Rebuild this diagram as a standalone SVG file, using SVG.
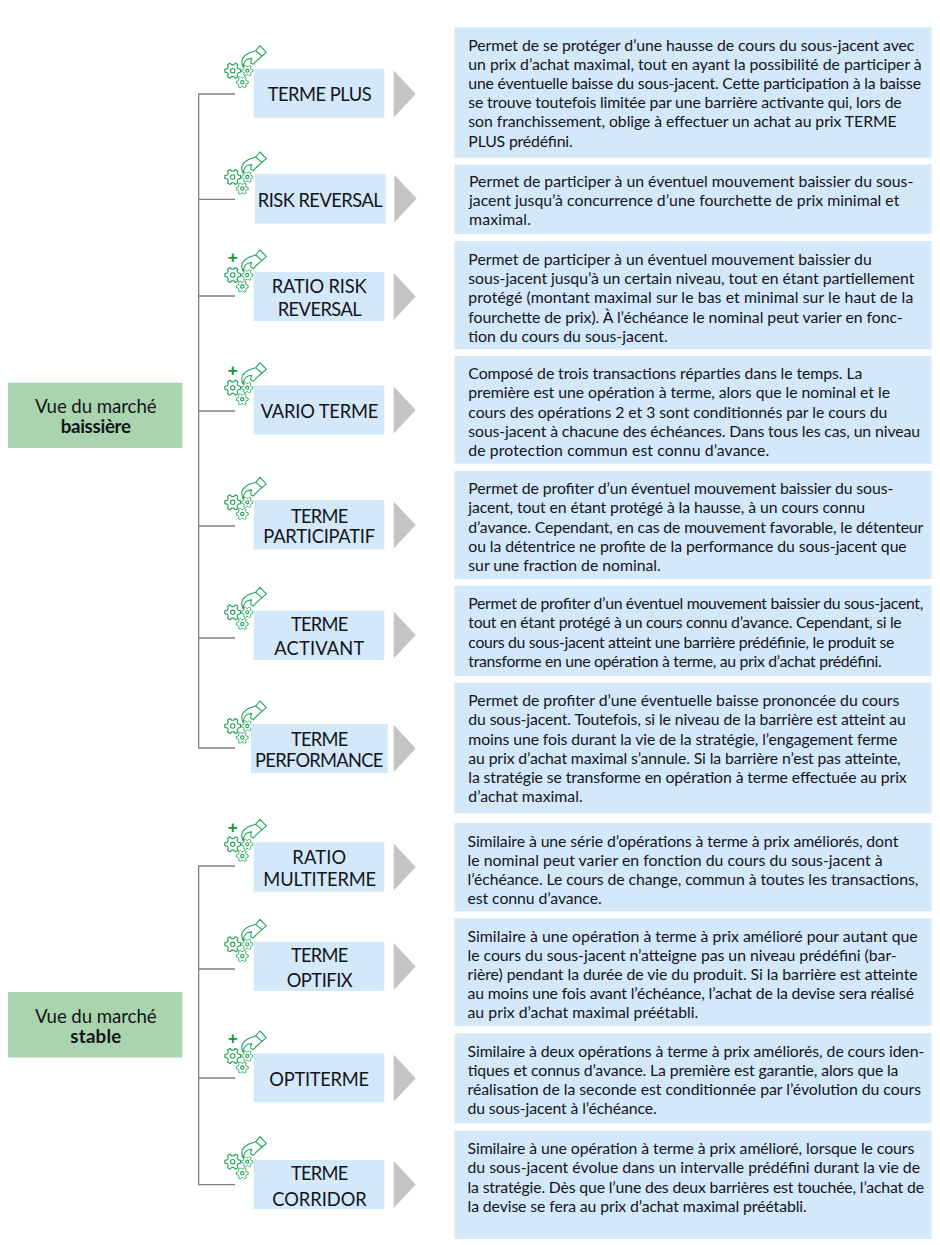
<svg xmlns="http://www.w3.org/2000/svg" xmlns:xlink="http://www.w3.org/1999/xlink" width="940" height="1245" viewBox="0 0 940 1245">
<style>
text{font-family:Lato,"Noto Sans","Liberation Sans",sans-serif;fill:#14141c}
.d{font-size:15.8px}
.l{font-size:18.300px;text-anchor:middle}
.m{font-size:18.700px;text-anchor:middle}
.b{font-weight:700}
.g{fill:#a9d4ae}
.lb{fill:#d3e8f9}
.t{fill:#c4c4c4}
.c{stroke:#808080;stroke-width:1.3;fill:none}
.i{fill:none;stroke:#21a556;stroke-width:1.1;stroke-linejoin:round;stroke-linecap:round}
.p{font-family:"Liberation Sans",sans-serif;font-size:17px;font-weight:700;fill:#12983f;text-anchor:middle}
</style>
<defs>
<polygon id="cog" points="5.17,-1.88 7.39,-1.3 7.39,1.3 5.17,1.88 4.21,3.54 4.82,5.75 2.57,7.05 .96,5.42 -.96,5.42 -2.57,7.05 -4.82,5.75 -4.21,3.54 -5.17,1.88 -7.39,1.3 -7.39,-1.3 -5.17,-1.88 -4.21,-3.54 -4.82,-5.75 -2.57,-7.05 -.96,-5.42 .96,-5.42 2.57,-7.05 4.82,-5.75 4.21,-3.54"/>
<g id="icon" class="i">
<use xlink:href="#cog" href="#cog" transform="translate(7.700,25.700) scale(1.060)"/><circle cx="7.700" cy="25.700" r="2.200"/>
<use xlink:href="#cog" href="#cog" transform="translate(22.300,25.700) scale(.75)"/><circle cx="22.300" cy="25.700" r="1.600"/>
<use xlink:href="#cog" href="#cog" transform="translate(17.300,37.300) scale(.8)"/><circle cx="17.300" cy="37.300" r="1.700"/>
<path d="M30.700,5.700 L35,.7 L41.300,7.300 L37,11 Z"/>
<path d="M30.700,5.700 C26,7 23.500,8 22.300,9 C18,11.500 15,16 18.300,22.300 C18.500,19 20,15 23,14 L26.700,13.300 C26,15 25.500,17 26,18.300 L28.300,19.300 L31.700,15.700 L37,11"/>
</g>
</defs>

<g id="connectors">
<path class="c" d="M235,94H198.700V748H235M198.700,199.300H235M198.700,296H235M198.700,411H235M198.700,526H235M198.700,638H235"/>
<path class="c" d="M235,866H198.700V1184.700H235M198.700,969H235M198.700,1078H235"/>
</g>

<g id="market-baissiere"><rect class="g" x="8" y="382.700" width="174.300" height="65.300"/><text class="m" x="95.800" y="413.300" textLength="121.700">Vue du marché</text><text class="m b" x="95.800" y="433.300" textLength="70.300">baissière</text></g>
<g id="market-stable"><rect class="g" x="8" y="992" width="174.300" height="65.500"/><text class="m" x="95.800" y="1022.500" textLength="121.700">Vue du marché</text><text class="m b" x="95.800" y="1043" textLength="51">stable</text></g>

<g id="terme-plus"><use xlink:href="#icon" href="#icon" x="225" y="45"/><rect class="lb" x="253.700" y="69" width="130.600" height="48.700"/><text class="l" x="319.700" y="100.700" textLength="104">TERME PLUS</text><polygon class="t" points="393.700,70.500 415.700,94 393.700,117.500"/>
<rect class="lb" x="454.500" y="27.300" width="477" height="130.400"/>
<text class="d" x="468.300" y="50.700" textLength="446">Permet de se protéger d’une hausse de cours du sous-jacent avec</text>
<text class="d" x="468.300" y="70" textLength="453.400">un prix d’achat maximal, tout en ayant la possibilité de participer à</text>
<text class="d" x="468.300" y="89" textLength="452.700">une éventuelle baisse du sous-jacent. Cette participation à la baisse</text>
<text class="d" x="468.300" y="108.300" textLength="433.400">se trouve toutefois limitée par une barrière activante qui, lors de</text>
<text class="d" x="468.300" y="127.300" textLength="428.400">son franchissement, oblige à effectuer un achat au prix TERME</text>
<text class="d" x="468.300" y="146.700" textLength="104.400">PLUS prédéfini.</text></g>

<g id="risk-reversal"><use xlink:href="#icon" href="#icon" x="225" y="151.300"/><rect class="lb" x="255" y="174" width="130.700" height="49.500"/><text class="l" x="320.200" y="207.400" textLength="125">RISK REVERSAL</text><polygon class="t" points="394.300,175 416.700,198.500 394.300,222.500"/>
<rect class="lb" x="454.500" y="164.500" width="477" height="69.500"/>
<text class="d" x="469" y="186.700" textLength="444.300">Permet de participer à un éventuel mouvement baissier du sous-</text>
<text class="d" x="469" y="206" textLength="430.300">jacent jusqu’à concurrence d’une fourchette de prix minimal et</text>
<text class="d" x="469" y="225" textLength="62">maximal.</text></g>

<g id="ratio-risk-reversal"><use xlink:href="#icon" href="#icon" x="225" y="249.300"/><text class="p" x="232.700" y="263">+</text><rect class="lb" x="253.700" y="272" width="130.600" height="49"/><text class="l" x="319.200" y="293.300" textLength="95">RATIO RISK</text><text class="l" x="319.700" y="315.700" textLength="84">REVERSAL</text><polygon class="t" points="393.700,273 415.700,296.500 393.700,320"/>
<rect class="lb" x="454.500" y="241" width="477" height="108.500"/>
<text class="d" x="468.300" y="265" textLength="403.400">Permet de participer à un éventuel mouvement baissier du</text>
<text class="d" x="468.300" y="284.300" textLength="446">sous-jacent jusqu’à un certain niveau, tout en étant partiellement</text>
<text class="d" x="468.300" y="303.300" textLength="445">protégé (montant maximal sur le bas et minimal sur le haut de la</text>
<text class="d" x="468.300" y="322.700" textLength="434.400">fourchette de prix). À l’échéance le nominal peut varier en fonc-</text>
<text class="d" x="468.300" y="341.700" textLength="199.400">tion du cours du sous-jacent.</text></g>

<g id="vario-terme"><use xlink:href="#icon" href="#icon" x="225" y="362"/><text class="p" x="232.700" y="375.700">+</text><rect class="lb" x="253.700" y="385.500" width="130.600" height="49"/><text class="l" x="319.500" y="417.700" textLength="117.700">VARIO TERME</text><polygon class="t" points="393.700,386.500 415.700,410 393.700,433.500"/>
<rect class="lb" x="454.500" y="356" width="477" height="107.700"/>
<text class="d" x="468.300" y="379" textLength="394">Composé de trois transactions réparties dans le temps. La</text>
<text class="d" x="468.300" y="398.300" textLength="421.700">première est une opération à terme, alors que le nominal et le</text>
<text class="d" x="468.300" y="417.700" textLength="419">cours des opérations 2 et 3 sont conditionnés par le cours du</text>
<text class="d" x="468.300" y="436.700" textLength="451.700">sous-jacent à chacune des échéances. Dans tous les cas, un niveau</text>
<text class="d" x="468.300" y="456" textLength="301">de protection commun est connu d’avance.</text></g>

<g id="terme-participatif"><use xlink:href="#icon" href="#icon" x="225" y="476.600"/><rect class="lb" x="253.700" y="500" width="130.600" height="49.300"/><text class="l" x="319.700" y="522.700" textLength="57.300">TERME</text><text class="l" x="319.200" y="542.700" textLength="111.700">PARTICIPATIF</text><polygon class="t" points="393.700,501.500 415.700,525 393.700,548.500"/>
<rect class="lb" x="454.500" y="471" width="477" height="108"/>
<text class="d" x="468.300" y="494" textLength="425">Permet de profiter d’un éventuel mouvement baissier du sous-</text>
<text class="d" x="468.300" y="513.300" textLength="396.700">jacent, tout en étant protégé à la hausse, à un cours connu</text>
<text class="d" x="468.300" y="532.700" textLength="455">d’avance. Cependant, en cas de mouvement favorable, le détenteur</text>
<text class="d" x="468.300" y="551.700" textLength="438.400">ou la détentrice ne profite de la performance du sous-jacent que</text>
<text class="d" x="468.300" y="570.700" textLength="192.400">sur une fraction de nominal.</text></g>

<g id="terme-activant"><use xlink:href="#icon" href="#icon" x="225" y="586.600"/><rect class="lb" x="253.700" y="610.700" width="130.600" height="49.300"/><text class="l" x="319.700" y="630.700" textLength="57.300">TERME</text><text class="l" x="319.300" y="655" textLength="90">ACTIVANT</text><polygon class="t" points="393.700,611.500 415.700,635 393.700,658.500"/>
<rect class="lb" x="454.500" y="585.700" width="477" height="90.300"/>
<text class="d" x="468.300" y="609.300" textLength="455">Permet de profiter d’un éventuel mouvement baissier du sous-jacent,</text>
<text class="d" x="468.300" y="628.300" textLength="433.400">tout en étant protégé à un cours connu d’avance. Cependant, si le</text>
<text class="d" x="468.300" y="647.700" textLength="426">cours du sous-jacent atteint une barrière prédéfinie, le produit se</text>
<text class="d" x="468.300" y="666.700" textLength="413.400">transforme en une opération à terme, au prix d’achat prédéfini.</text></g>

<g id="terme-performance"><use xlink:href="#icon" href="#icon" x="225" y="700.300"/><rect class="lb" x="251" y="724" width="136.700" height="49"/><text class="l" x="319.700" y="745.800" textLength="57.300">TERME</text><text class="l" x="319.200" y="766.500" textLength="128.300">PERFORMANCE</text><polygon class="t" points="393.700,725 415.700,748.500 393.700,772"/>
<rect class="lb" x="454.500" y="682.700" width="477" height="130.600"/>
<text class="d" x="468.300" y="706" textLength="431">Permet de profiter d’une éventuelle baisse prononcée du cours</text>
<text class="d" x="468.300" y="725.300" textLength="437.400">du sous-jacent. Toutefois, si le niveau de la barrière est atteint au</text>
<text class="d" x="468.300" y="744.700" textLength="429">moins une fois durant la vie de la stratégie, l’engagement ferme</text>
<text class="d" x="468.300" y="764" textLength="432.400">au prix d’achat maximal s’annule. Si la barrière n’est pas atteinte,</text>
<text class="d" x="468.300" y="783.300" textLength="438.400">la stratégie se transforme en opération à terme effectuée au prix</text>
<text class="d" x="468.300" y="802.300" textLength="114.400">d’achat maximal.</text></g>

<g id="ratio-multiterme"><use xlink:href="#icon" href="#icon" x="225" y="818.600"/><text class="p" x="232.700" y="832.500">+</text><rect class="lb" x="253.700" y="842.300" width="130.600" height="49.400"/><text class="l" x="319.200" y="864.300" textLength="53.700">RATIO</text><text class="l" x="319.700" y="886" textLength="112.700">MULTITERME</text><polygon class="t" points="393.700,843.500 415.700,867 393.700,890.500"/>
<rect class="lb" x="454.500" y="823" width="477" height="88.300"/>
<text class="d" x="467.500" y="846.700" textLength="430.800">Similaire à une série d’opérations à terme à prix améliorés, dont</text>
<text class="d" x="467.500" y="865.700" textLength="415.200">le nominal peut varier en fonction du cours du sous-jacent à</text>
<text class="d" x="467.500" y="885" textLength="450.800">l’échéance. Le cours de change, commun à toutes les transactions,</text>
<text class="d" x="467.500" y="904" textLength="134.200">est connu d’avance.</text></g>

<g id="terme-optifix"><use xlink:href="#icon" href="#icon" x="225" y="918.600"/><rect class="lb" x="253.700" y="941.700" width="130.600" height="49.300"/><text class="l" x="319.700" y="962" textLength="57.300">TERME</text><text class="l" x="319.700" y="987.300" textLength="66">OPTIFIX</text><polygon class="t" points="393.700,943 415.700,966.500 393.700,990"/>
<rect class="lb" x="454.500" y="918.300" width="477" height="107.700"/>
<text class="d" x="467.500" y="941.700" textLength="450.200">Similaire à une opération à terme à prix amélioré pour autant que</text>
<text class="d" x="467.500" y="960.700" textLength="429.200">le cours du sous-jacent n’atteigne pas un niveau prédéfini (bar-</text>
<text class="d" x="467.500" y="980" textLength="450.200">rière) pendant la durée de vie du produit. Si la barrière est atteinte</text>
<text class="d" x="467.500" y="999" textLength="446.500">au moins une fois avant l’échéance, l’achat de la devise sera réalisé</text>
<text class="d" x="467.500" y="1018.300" textLength="230.800">au prix d’achat maximal préétabli.</text></g>

<g id="optiterme"><use xlink:href="#icon" href="#icon" x="225" y="1030.300"/><text class="p" x="232.700" y="1044">+</text><rect class="lb" x="253.700" y="1053.300" width="130.600" height="49"/><text class="l" x="319.200" y="1085.700" textLength="99.700">OPTITERME</text><polygon class="t" points="393.700,1054.800 415.700,1078.300 393.700,1101.800"/>
<rect class="lb" x="454.500" y="1033.300" width="477" height="90"/>
<text class="d" x="467.500" y="1056.700" textLength="456.800">Similaire à deux opérations à terme à prix améliorés, de cours iden-</text>
<text class="d" x="467.500" y="1075.700" textLength="430.800">tiques et connus d’avance. La première est garantie, alors que la</text>
<text class="d" x="467.500" y="1095" textLength="453.500">réalisation de la seconde est conditionnée par l’évolution du cours</text>
<text class="d" x="467.500" y="1114" textLength="189.200">du sous-jacent à l’échéance.</text></g>

<g id="terme-corridor"><use xlink:href="#icon" href="#icon" x="225" y="1136"/><rect class="lb" x="253.700" y="1160" width="130.600" height="49"/><text class="l" x="319.700" y="1180" textLength="57.300">TERME</text><text class="l" x="319.500" y="1205.700" textLength="94.400">CORRIDOR</text><polygon class="t" points="393.700,1161 415.700,1184.500 393.700,1208"/>
<rect class="lb" x="454.500" y="1130.700" width="477" height="108.300"/>
<text class="d" x="467.500" y="1154.300" textLength="446.800">Similaire à une opération à terme à prix amélioré, lorsque le cours</text>
<text class="d" x="467.500" y="1173.300" textLength="452.500">du sous-jacent évolue dans un intervalle prédéfini durant la vie de</text>
<text class="d" x="467.500" y="1192.700" textLength="456.500">la stratégie. Dès que l’une des deux barrières est touchée, l’achat de</text>
<text class="d" x="467.500" y="1211.700" textLength="339.200">la devise se fera au prix d’achat maximal préétabli.</text></g>
</svg>
